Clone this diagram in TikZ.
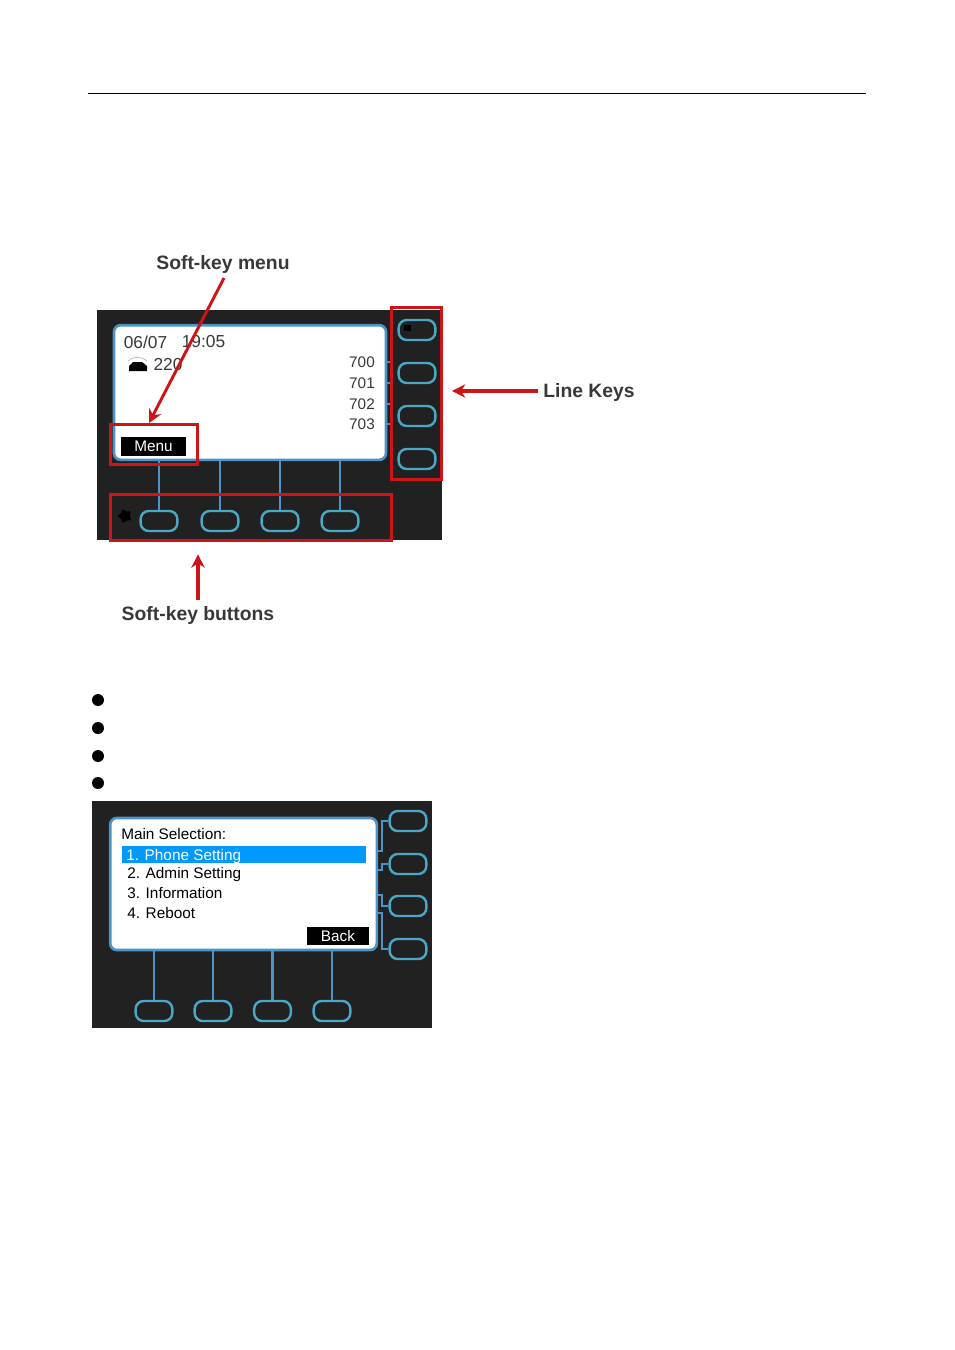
\documentclass[tikz,border=0pt]{standalone}
\usepackage{fontspec}
\setmainfont{Liberation Sans}
\usetikzlibrary{arrows.meta,shapes.geometric}
\definecolor{PanelDark}{rgb}{0.13,0.13,0.13}
\definecolor{KeyBlue}{rgb}{0.29,0.66,0.78}
\definecolor{FrameBlue}{rgb}{0.30,0.58,0.78}
\definecolor{MarkRed}{rgb}{0.80,0.08,0.10}
\definecolor{SelectBlue}{rgb}{0.0,0.60,1.0}
\definecolor{CallGray}{rgb}{0.22,0.22,0.22}
\tikzset{
  screen/.style={draw=FrameBlue,line width=2pt,fill=white,rounded corners=5pt,inner sep=0pt},
  softkey/.style={draw=KeyBlue,line width=1.8pt,rounded corners=6pt,minimum width=27.5pt,minimum height=15pt,inner sep=0pt},
  wire/.style={FrameBlue,line width=2.1pt},
  markbox/.style={draw=MarkRed,line width=2.2pt,fill=none,inner sep=0pt},
  callout/.style={MarkRed,line width=2.2pt,-{Stealth[length=10pt,width=10pt]}},
  calltext/.style={text=CallGray,font=\fontsize{14.5}{16}\selectfont\bfseries,inner sep=0pt},
  lcdtext/.style={text=CallGray,font=\fontsize{11.5}{13}\selectfont,inner sep=0pt},
  lcdwide/.style={text=CallGray,font=\fontsize{13}{15}\selectfont,inner sep=0pt},
  menutext/.style={text=black,font=\fontsize{11.5}{13}\selectfont,inner sep=0pt,anchor=base west},
  dot/.style={circle,fill=black,inner sep=0pt,minimum size=9pt},
}
\begin{document}
\begin{tikzpicture}[x=0.75pt,y=-0.75pt]
    \useasboundingbox (0,0) rectangle (954,1350);
    %%Header rule
    \coordinate (ruleL) at (88,93.5);
    \coordinate (ruleR) at (866,93.5);
    \draw[line width=0.6pt] (ruleL) -- (ruleR);

    %%Upper panel
    \fill[PanelDark] (97,310) rectangle (442,540);
    \node[screen,minimum width=204pt,minimum height=101pt] (upscreen) at (250,392.5) {};
    %%Soft keys and wires
    \foreach \i/\x in {1/159,2/220,3/280,4/340}{
        \node[softkey] (upsoft\i) at (\x,521) {};
        \draw[wire] (upsoft\i) -- (upsoft\i |- upscreen.south);
    }
    %%Line keys
    \foreach \i/\y in {1/330,2/373,3/416,4/459}{
        \node[softkey] (upline\i) at (417,\y) {};
    }
    \foreach \i/\y in {1/362,2/383,3/404,4/424}{
        \coordinate (uptick\i) at (391,\y);
        \draw[wire,line width=1pt] (uptick\i) -- (uptick\i -| upscreen.east);
    }
    %%Screen text
    \node[lcdwide] (update) at (145.5,342) {06/07};
    \node[lcdwide] (uptime) at (203.5,342) {19:05};
    \node[lcdwide] (upnum) at (168,365) {220};
    \foreach \i/\y/\t in {1/362/700,2/383/701,3/404/702,4/424/703}{
        \node[lcdtext] (uplabel\i) at (362,\y) {\t};
    }
    %%Phone icon
    \fill (129,371) -- (129,366) -- (133,362) -- (142,362) -- (147,366) -- (147,371) -- cycle;
    \draw[gray!60,line width=0.5pt] (128,361) .. controls (133,356) and (142,356) .. (147,361);
    %%Smudges
    \node[star,star points=5,fill=black,inner sep=0pt,minimum size=11pt,rotate=20] (upstar) at (125,516) {};
    \fill (404,325) rectangle (411,331);
    %%Menu button
    \node[fill=black,text=white,font=\fontsize{11.5}{13}\selectfont,minimum width=48.5pt,minimum height=14.5pt,inner sep=0pt] (upmenu) at (153.5,446.5) {Menu};

    %%Red marks
    \node[markbox,minimum width=65pt,minimum height=30pt] (markmenu) at (154,444.5) {};
    \node[markbox,minimum width=37.5pt,minimum height=129pt] (markline) at (416.5,393.5) {};
    \node[markbox,minimum width=211pt,minimum height=35pt] (marksoft) at (251,517.5) {};
    %%Callouts
    \node[calltext] (calltop) at (223,264) {Soft-key menu};
    \node[calltext] (callline) at (589,392) {Line Keys};
    \node[calltext] (callsoft) at (198,615) {Soft-key buttons};
    \coordinate (calltopfoot) at (224,278);
    \coordinate (calllinefoot) at (538,391);
    \coordinate (callsoftfoot) at (198,600);
    \draw[callout] (calltopfoot) -- ([xshift=-3.75pt]markmenu.north);
    \draw[callout,line width=2.8pt,shorten >=6.75pt] (calllinefoot) -- (calllinefoot -| markline.east);
    \draw[callout,line width=2.8pt,shorten >=9pt] (callsoftfoot) -- (callsoftfoot |- marksoft.south);

    %%Bullets
    \foreach \i/\y in {1/700,2/728,3/756,4/783}{
        \node[dot] (bullet\i) at (98,\y) {};
    }

    %%Lower panel
    \fill[PanelDark] (92,801) rectangle (432,1028);
    \node[screen,minimum width=200pt,minimum height=99pt] (lowscreen) at (243.5,884) {};
    %%Soft keys and wires
    \foreach \i/\x in {1/154,2/213,3/272.5,4/332}{
        \node[softkey] (lowsoft\i) at (\x,1011) {};
        \draw[wire] (lowsoft\i) -- (lowsoft\i |- lowscreen.south);
    }
    %%Line keys and their wires
    \foreach \i/\y/\s in {1/821/851,2/864/870,3/906/895,4/949/913}{
        \node[softkey] (lowline\i) at (408,\y) {};
        \coordinate (lowbend\i) at (382,\y);
        \coordinate (lowtap\i) at (382,\s);
        \draw[wire] (lowline\i) -- (lowbend\i) -- (lowtap\i) -- (lowtap\i -| lowscreen.east);
    }
    %%Menu list
    \node[fill=SelectBlue,minimum width=183pt,minimum height=12.8pt,inner sep=0pt] (lowselect) at (244,854.5) {};
    \node[menutext] (lowtitle) at (121,839.5) {Main Selection:};
    \node[menutext,text=white] (lowitem1) at (126,860) {1. Phone Setting};
    \node[menutext] (lowitem2) at (127,878) {2. Admin Setting};
    \node[menutext] (lowitem3) at (127,898) {3. Information};
    \node[menutext] (lowitem4) at (127,918.5) {4. Reboot};
    \node[fill=black,text=white,font=\fontsize{11.5}{13}\selectfont,minimum width=46.5pt,minimum height=14pt,inner sep=0pt] (lowback) at (338,936) {Back};
\end{tikzpicture}
\end{document}
